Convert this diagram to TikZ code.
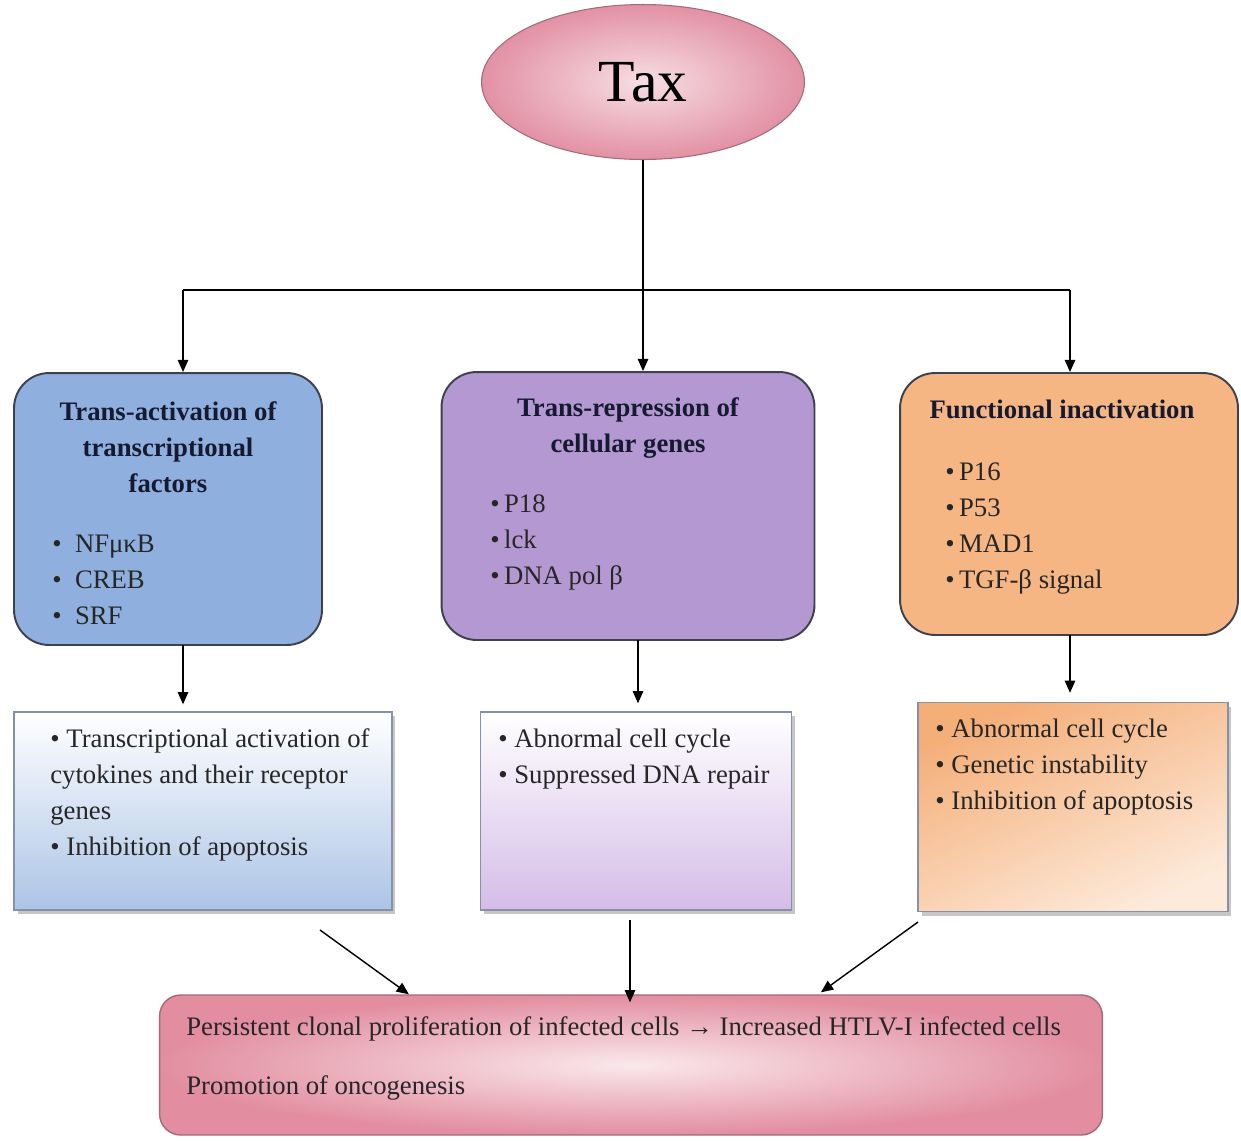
\documentclass[tikz,border=0pt]{standalone}
\usepackage{fontspec}
\setmainfont{Liberation Serif}
\usepackage{tikz}
\usetikzlibrary{arrows.meta,positioning,shapes.geometric,calc,shadows}

\definecolor{taxpink}{RGB}{226,145,164}
\definecolor{taxlight}{RGB}{247,222,228}
\definecolor{taxedge}{RGB}{165,105,120}
\definecolor{actblue}{RGB}{143,176,223}
\definecolor{reppurple}{RGB}{180,152,210}
\definecolor{inaorange}{RGB}{246,182,132}
\definecolor{resblue}{RGB}{172,196,230}
\definecolor{respurple}{RGB}{212,188,232}
\definecolor{resorange}{RGB}{244,174,120}
\definecolor{reslight}{RGB}{253,234,218}
\definecolor{outpink}{RGB}{226,142,160}
\definecolor{outlight}{RGB}{250,232,236}
\definecolor{edgegray}{RGB}{62,64,78}
\definecolor{resedge}{RGB}{135,145,165}
\definecolor{titleink}{RGB}{22,26,48}

\newcommand{\bodyfont}{\fontsize{15.2}{20.5}\selectfont}

\begin{document}
\begin{tikzpicture}[x=0.02cm, y=-0.02cm,
        group/.style={draw=edgegray, line width=1.1pt, rounded corners=20pt},
        result/.style={draw=resedge, line width=0.8pt,
                       drop shadow={shadow xshift=2pt, shadow yshift=-2.5pt, opacity=0.45}},
        title/.style={anchor=north, align=center, inner sep=0pt, text=titleink,
                      font=\bodyfont\bfseries},
        items/.style={anchor=north west, align=left, inner sep=0pt, text=black!85,
                      font=\bodyfont},
        arr/.style={-{Triangle[length=7pt, width=6pt]}, line width=0.8pt},
    ]
    \useasboundingbox (0,0) rectangle (1241,1140);

    % Tax at the top
    \node[ellipse, draw=taxedge, line width=0.6pt, inner color=taxlight, outer color=taxpink,
          minimum width=6.46cm, minimum height=3.1cm, font=\fontsize{34}{40}\selectfont]
          (tax) at (643,82) {Tax};

    % Three mechanisms
    \node[group, fill=actblue, minimum width=6.16cm, minimum height=5.44cm] (act) at (168,509) {};
    \node[group, fill=reppurple, minimum width=7.46cm, minimum height=5.36cm] (rep) at (628,506) {};
    \node[group, fill=inaorange, minimum width=6.76cm, minimum height=5.24cm] (ina) at (1069,504) {};

    \node[title] (acttitle) at (168,401) {Trans-activation of\\transcriptional\\factors};
    \node[items] (actlist) at (52,535) {•~~NFμκB\\•~~CREB\\•~~SRF};

    \node[title] (reptitle) at (628,397) {Trans-repression of\\cellular genes};
    \node[items] (replist) at (490,494) {•\,P18\\•\,lck\\•\,DNA pol β};

    \node[title] (inatitle) at (1062,400) {Functional inactivation};
    \node[items] (inalist) at (945,462) {•\,P16\\•\,P53\\•\,MAD1\\•\,TGF-β signal};

    % Consequences
    \node[result, top color=white, bottom color=resblue, minimum width=7.56cm, minimum height=3.96cm]
          (res1) at (203,811) {};
    \node[result, top color=white, bottom color=respurple, minimum width=6.22cm, minimum height=3.96cm]
          (res2) at (636,811) {};
    \node[result, top color=resorange, bottom color=reslight, shading angle=25,
          minimum width=6.2cm, minimum height=4.18cm] (res3) at (1073,807) {};

    \node[items] (res1list) at (50,728)
          {• Transcriptional activation of\\cytokines and their receptor\\genes\\• Inhibition of apoptosis};
    \node[items] (res2list) at (498,729) {• Abnormal cell cycle\\• Suppressed DNA repair};
    \node[items] (res3list) at (935,719)
          {• Abnormal cell cycle\\• Genetic instability\\• Inhibition of apoptosis};

    % Outcome
    \node[draw=taxedge, line width=0.8pt, rounded corners=12pt, inner color=outlight, outer color=outpink,
          minimum width=18.86cm, minimum height=2.8cm] (out) at (631,1065) {};
    \node[items] (outline1) at (186,1016)
          {Persistent clonal proliferation of infected cells → Increased HTLV-I infected cells};
    \node[items] (outline2) at (186,1075) {Promotion of oncogenesis};

    % Arrows from Tax
    \coordinate (forkl) at (183,290);
    \coordinate (forkr) at (1070,290);
    \draw[arr] (tax.south) -- (tax.south |- rep.north);
    \draw[line width=0.8pt] (forkl) -- (forkr);
    \draw[arr] (forkl) -- (forkl |- act.north);
    \draw[arr] (forkr) -- (forkr |- ina.north);

    % Arrows to consequences
    \coordinate (down1) at (183,645);
    \coordinate (down2) at (638,640);
    \coordinate (down3) at (1070,635);
    \draw[arr] (down1) -- ($(down1 |- res1.north)+(0,-7)$);
    \draw[arr] (down2) -- ($(down2 |- res2.north)+(0,-8)$);
    \draw[arr] (down3) -- ($(down3 |- res3.north)+(0,-9)$);

    % Arrows to outcome
    \coordinate (conv1) at (320,930);
    \coordinate (conv2) at (630,920);
    \coordinate (conv3) at (918,922);
    \draw[arr] (conv1) -- ($(out.north west)+(250,0)$);
    \draw[arr] (conv2) -- ($(conv2 |- out.north)+(0,8)$);
    \draw[arr] (conv3) -- ($(out.north west)+(662,-2)$);
\end{tikzpicture}
\end{document}
